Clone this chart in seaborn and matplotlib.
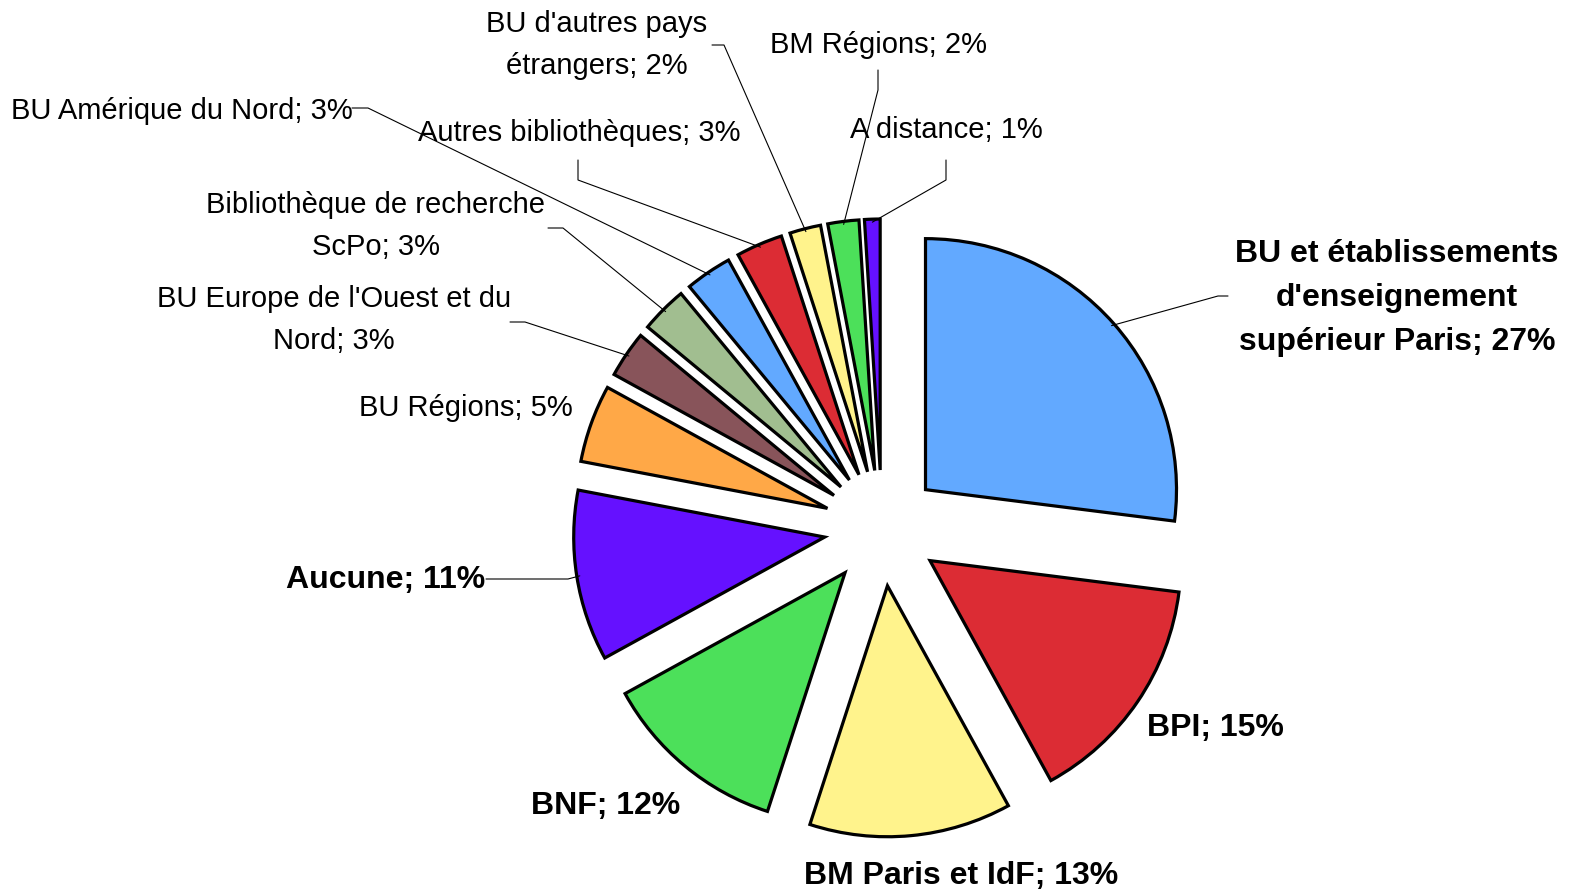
import numpy as np
import matplotlib
matplotlib.use("Agg")
import matplotlib.pyplot as plt
import seaborn as sns

# Data
categories = [
    "BU et établissements\nd'enseignement\nsupérieur Paris",
    "BPI",
    "BM Paris et IdF",
    "BNF",
    "Aucune",
    "BU Régions",
    "BU Europe de l'Ouest et du\nNord",
    "Bibliothèque de recherche\nScPo",
    "BU Amérique du Nord",
    "Autres bibliothèques",
    "BU d'autres pays\nétrangers",
    "BM Régions",
    "A distance",
]
percent = [27, 15, 13, 12, 11, 5, 3, 3, 3, 3, 2, 2, 1]

colors = ["#62A9FF", "#DC2C34", "#FFF38C", "#4CE05A", "#6511FF", "#FFA847",
          "#88545A", "#A1BE90", "#62A9FF", "#DC2C34", "#FFF38C", "#4CE05A",
          "#6511FF"]

# layout (pixel coords, y down)
label_pos = [(1397, 298), (1215, 728), (961, 876), (606, 806), (386, 580),
             (466, 408), (334, 320), (376, 226), (182, 111), (579, 133),
             (597, 45), (878, 45), (946, 130)]
leader_pts = [
    [(1228, 296), (1218, 296)],
    None,
    None,
    None,
    [(486, 579), (568, 579)],
    None,
    [(510, 322), (525, 322)],
    [(548, 228), (563, 228)],
    [(352, 108), (368, 108)],
    [(578, 160), (578, 180)],
    [(712, 45), (724, 45)],
    [(878, 70), (878, 90)],
    [(946, 160), (946, 180)],
]

sns.set_theme(style="white")
plt.rcParams["font.family"] = ["Liberation Sans", "DejaVu Sans"]

W, H = 1574, 892
fig = plt.figure(figsize=(W / 100, H / 100), dpi=100)
ax = fig.add_axes([0, 0, 1, 1])
ax.set_xlim(0, W)
ax.set_ylim(H, 0)
ax.set_aspect("equal")
ax.axis("off")

cx, cy, R = 882, 528, 251
expl = 58  # pie explode is in data units here
wedges, _ = ax.pie(percent, colors=colors, startangle=-90, counterclock=True,
                   center=(cx, cy), radius=R, explode=[expl] * len(percent),
                   wedgeprops=dict(edgecolor="black", linewidth=2.3))
ax.set_xlim(0, W)
ax.set_ylim(H, 0)

for w, cat, p, pos, pts in zip(wedges, categories, percent, label_pos, leader_pts):
    big = p >= 11
    ax.text(pos[0], pos[1], f"{cat}; {p}%", ha="center", va="center",
            fontsize=23 if big else 21, fontweight="bold" if big else "normal",
            linespacing=1.6, color="black")
    if pts is not None:
        th = np.deg2rad((w.theta1 + w.theta2) / 2)
        wx, wy = w.center
        rr = w.r - 3
        anchor = (wx + rr * np.cos(th), wy + rr * np.sin(th))
        xs = [q[0] for q in pts] + [anchor[0]]
        ys = [q[1] for q in pts] + [anchor[1]]
        ax.plot(xs, ys, color="black", lw=0.8)

plt.savefig("out.png", dpi=100)
